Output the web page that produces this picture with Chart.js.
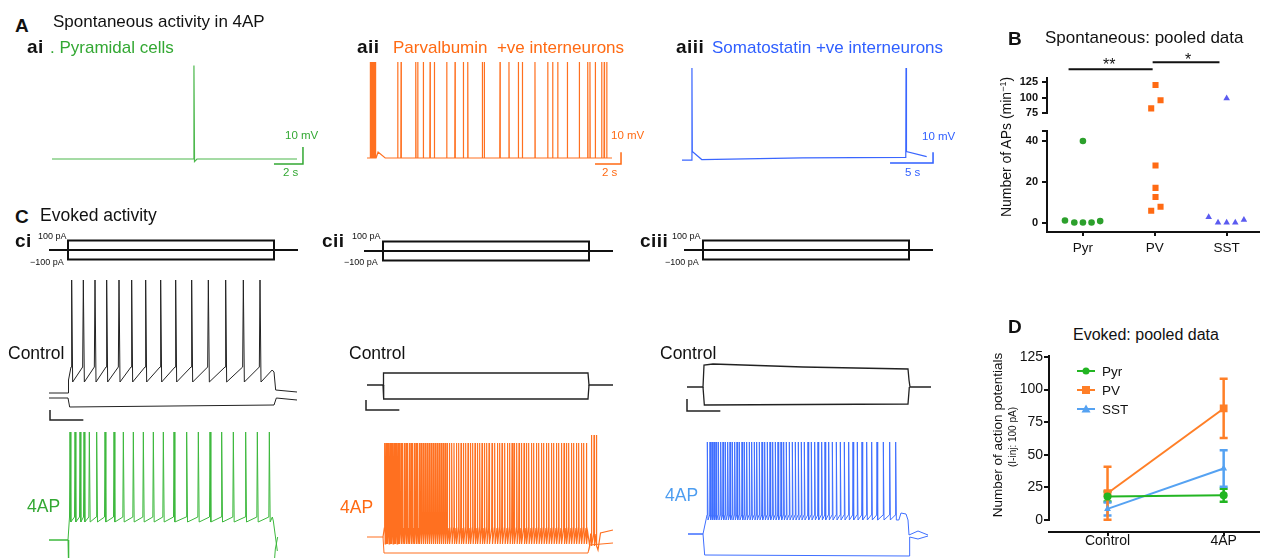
<!DOCTYPE html>
<html lang="en">
<head>
<meta charset="utf-8">
<title>Spontaneous and evoked activity in 4AP</title>
<script src="https://cdn.jsdelivr.net/npm/chart.js@4.4.1/dist/chart.umd.min.js"></script>
<style>
  html, body { margin: 0; padding: 0; background: #fff; }
  #fig { position: relative; width: 1264px; height: 558px; overflow: hidden;
         font-family: 'Liberation Sans', Arial, sans-serif; color: #111; }
  #fig canvas { position: absolute; }
  .t { position: absolute; white-space: nowrap; line-height: 1; font-size: 17px; }
  .pl { font-weight: bold; font-size: 19px; letter-spacing: 0.5px; }
  .s { font-size: 11.5px; }
  .pa { font-size: 9px; }
  .rot { position: absolute; white-space: nowrap; line-height: 1; transform: translate(-50%, -50%) rotate(-90deg); }
  .lg { position: absolute; }
  .g { color: #33a833; } .o { color: #ff6a13; } .b { color: #2f5fff; }
</style>
</head>
<body>
<div id="fig">
  <!-- A: spontaneous -->
  <canvas id="cAi"   width="270" height="115" style="left:45px;top:55px"></canvas>
  <canvas id="cAii"  width="280" height="115" style="left:360px;top:55px"></canvas>
  <canvas id="cAiii" width="270" height="115" style="left:675px;top:55px"></canvas>

  <!-- C: evoked -->
  <canvas id="cCiS"   width="265" height="30"  style="left:40px;top:235px"></canvas>
  <canvas id="cCiiS"  width="265" height="30"  style="left:355px;top:236px"></canvas>
  <canvas id="cCiiiS" width="265" height="30"  style="left:675px;top:235px"></canvas>
  <canvas id="cCiC"   width="265" height="155" style="left:40px;top:270px"></canvas>
  <canvas id="cCiiC"  width="265" height="155" style="left:355px;top:270px"></canvas>
  <canvas id="cCiiiC" width="265" height="155" style="left:675px;top:270px"></canvas>
  <canvas id="cCiA"   width="265" height="133" style="left:40px;top:425px"></canvas>
  <canvas id="cCiiA"  width="265" height="133" style="left:355px;top:425px"></canvas>
  <canvas id="cCiiiA" width="265" height="133" style="left:675px;top:425px"></canvas>

  <!-- B and D -->
  <canvas id="cBtop" width="274" height="74"  style="left:990px;top:50px"></canvas>
  <canvas id="cBbot" width="274" height="150" style="left:990px;top:120px"></canvas>
  <canvas id="cD"    width="274" height="213" style="left:990px;top:345px"></canvas>

  <div class="t pl" style="left:15px;top:16px">A</div>
  <div class="t" style="left:53px;top:12.5px">Spontaneous activity in 4AP</div>
  <div class="t pl" style="left:27px;top:37px">ai</div>
  <div class="t g" style="left:50px;top:39px">. Pyramidal cells</div>
  <div class="t pl" style="left:357px;top:37px">aii</div>
  <div class="t o" style="left:393px;top:39px">Parvalbumin&nbsp; +ve interneurons</div>
  <div class="t pl" style="left:676px;top:37px">aiii</div>
  <div class="t b" style="left:712px;top:39px">Somatostatin +ve interneurons</div>
  <div class="t s g" style="left:285px;top:130px">10 mV</div>
  <div class="t s g" style="left:283px;top:167px">2 s</div>
  <div class="t s o" style="left:611px;top:130px">10 mV</div>
  <div class="t s o" style="left:602px;top:167px">2 s</div>
  <div class="t s b" style="left:922px;top:131px">10 mV</div>
  <div class="t s b" style="left:905px;top:167px">5 s</div>

  <div class="t pl" style="left:15px;top:207px">C</div>
  <div class="t" style="left:40px;top:207px;font-size:17.5px">Evoked activity</div>
  <div class="t pl" style="left:15px;top:230.5px">ci</div>
  <div class="t pl" style="left:322px;top:230.5px">cii</div>
  <div class="t pl" style="left:640px;top:230.5px">ciii</div>
  <div class="t pa" style="left:38px;top:232px">100 pA</div>
  <div class="t pa" style="left:30px;top:258px">&minus;100 pA</div>
  <div class="t pa" style="left:352px;top:232px">100 pA</div>
  <div class="t pa" style="left:344px;top:258px">&minus;100 pA</div>
  <div class="t pa" style="left:672px;top:232px">100 pA</div>
  <div class="t pa" style="left:665px;top:258px">&minus;100 pA</div>
  <div class="t" style="left:8px;top:344.5px;font-size:17.5px">Control</div>
  <div class="t" style="left:349px;top:344.5px;font-size:17.5px">Control</div>
  <div class="t" style="left:660px;top:344.5px;font-size:17.5px">Control</div>
  <div class="t g" style="left:27px;top:498px;font-size:17.5px">4AP</div>
  <div class="t o" style="left:340px;top:498.5px;font-size:17.5px">4AP</div>
  <div class="t" style="left:665px;top:487px;font-size:17.5px;color:#4d9df0">4AP</div>

  <div class="t pl" style="left:1008px;top:29px">B</div>
  <div class="t" style="left:1045px;top:29px">Spontaneous: pooled data</div>
  <div class="t" style="left:1103px;top:57px;font-size:16px">**</div>
  <div class="t" style="left:1185px;top:52px;font-size:16px">*</div>
  <div class="rot" style="left:1006px;top:147px;font-size:14px">Number of APs (min<sup style="font-size:9px">&minus;1</sup>)</div>

  <div class="t pl" style="left:1008px;top:317px">D</div>
  <div class="t" style="left:1073px;top:326.5px;font-size:16px">Evoked: pooled data</div>
  <div class="rot" style="left:998px;top:435px;font-size:13.5px">Number of action potentials</div>
  <div class="rot" style="left:1013px;top:437px;font-size:10px">(I-inj: 100 pA)</div>

  <svg class="lg" style="left:1076px;top:365px" width="20" height="12"><line x1="1" y1="6" x2="19" y2="6" stroke="#22b522" stroke-width="2"/><circle cx="10" cy="6" r="3.5" fill="#22b522"/></svg>
  <svg class="lg" style="left:1076px;top:384px" width="20" height="12"><line x1="1" y1="6" x2="19" y2="6" stroke="#ff7f27" stroke-width="2"/><rect x="6" y="2" width="8" height="8" fill="#ff7f27"/></svg>
  <svg class="lg" style="left:1076px;top:403px" width="20" height="12"><line x1="1" y1="6" x2="19" y2="6" stroke="#55a2f2" stroke-width="2"/><polygon points="10,1.5 14.5,9.5 5.5,9.5" fill="#55a2f2"/></svg>
  <div class="t" style="left:1102px;top:364.5px;font-size:13.5px">Pyr</div>
  <div class="t" style="left:1102px;top:383.5px;font-size:13.5px">PV</div>
  <div class="t" style="left:1102px;top:402.5px;font-size:13.5px">SST</div>
</div>

<script>
Chart.defaults.font.family = "'Liberation Sans', Arial, sans-serif";
Chart.defaults.color = '#111';

// ---------- A: spontaneous activity in 4AP (time s, Vm mV) ----------
const aiSpikes = [9.79];
const aiBase = [[0, -60], [9.77, -60], [9.83, -61.5], [10.0, -60], [16.9, -60]];
const aiPeak = -5;
const aiBar = [[17.31, -53], [17.31, -63], [15.31, -63]];          // 10 mV, 2 s

const aiiBurst = [0.25, 0.33, 0.41, 0.49, 0.57, 0.65];
const aiiSpikes = [2.36, 2.62, 3.75, 3.9, 4.33, 4.85, 5.18, 6.13, 6.77, 7.41, 7.75, 8.87, 9.02,
  10.23, 10.92, 11.64, 11.95, 12.92, 13.9, 14.28, 14.67, 15.41, 16.33, 16.98, 17.15, 17.56,
  18.05, 18.25, 18.44];
const aiiBase = [[0, -60], [0.7, -60], [0.85, -55], [1.4, -60], [18.85, -60]];
const aiiPeak = 22;
const aiiBar = [[19.54, -55.1], [19.54, -65.1], [17.54, -65.1]];   // 10 mV, 2 s

const aiiiSpikes = [1.16, 26.05];
const aiiiBase = [[0, -61], [1.14, -61], [1.2, -53], [2.3, -60.5], [14, -59], [26.02, -58.4],
  [26.1, -53], [28.45, -57.8]];
const aiiiPeak = 25;
const aiiiBar = [[29.19, -53.7], [29.19, -63.7], [24.19, -63.7]];  // 10 mV, 5 s

// ---------- C: evoked activity (time ms from step onset, Vm mV) ----------
const stepOff = 1236;
const stepAmp = [100, -100];          // pA
const stimSpan = [-114, 1380];

// ci pyramidal
const ciCtrlSpikes = [22, 92, 162, 232, 306, 382, 466, 556, 646, 742, 842, 946, 1052, 1152];
const ciCtrlShape = [-37, 50, -52, 4, 6];           // threshold, peak, AHP, rise, fall
const ciCtrlLead = [[-114, -63], [0, -63], [3, -50]];
const ciCtrlTail = [[1225, -40], [1236, -42], [1246, -60], [1374, -62]];
const ciCtrlHyp = [[-114, -68], [0, -68], [10, -77], [1236, -75], [1250, -68], [1374, -70]];
const ciBar = [[-108, -80], [-108, -90], [92, -90]];
const ci4apSpikes = [12, 42, 72, 96, 128, 172, 222, 276, 332, 392, 452, 512, 572, 636, 712,
  782, 852, 922, 992, 1066, 1136, 1208];
const ci4apShape = [-42, 43, -47, 3, 5];
const ci4apLead = [[-114, -65], [0, -65]];
const ci4apTail = [[1226, -42], [1232, -46], [1256, -76]];
const ci4apHyp = [[-114, -65], [0, -65], [4, -100], [1232, -100], [1244, -74], [1258, -62]];

// cii parvalbumin
const ciiCtrlDep = [[-96, -65], [0, -65], [3, -53], [1230, -53], [1236, -65], [1380, -65]];
const ciiCtrlHyp = [[0, -65], [4, -79], [1230, -79], [1236, -65]];
const ciiBar = [[-102, -80], [-102, -90], [98, -90]];
const cii4apSpikes = [10, 18, 26, 34, 42, 50, 58, 66, 74, 82, 90, 98, 108, 118, 128, 138, 148,
  158, 168, 178, 188, 198, 208, 218, 228, 240, 252, 264, 276, 288, 300, 312, 324, 336, 348, 360,
  372, 384, 398, 412, 426, 440, 454, 468, 482, 496, 510, 524, 538, 552, 566, 580, 594, 608, 622,
  636, 654, 670, 686, 700, 714, 730, 746, 760, 774, 786, 802, 816, 830, 846, 860, 874, 890, 904,
  920, 934, 950, 964, 980, 994, 1010, 1024, 1040, 1054, 1070, 1086, 1100, 1114, 1130, 1144,
  1160, 1174, 1190, 1204, 1220];
const cii4apShape = [-56, 29, -72, 2, 3];
const cii4apLead = [[-96, -65], [0, -65]];
const cii4apMid = [[1228, -60], [1240, -74], [1246, -62]];
const cii4apRebound = [1250, 1266, 1280];
const cii4apReboundShape = [-62, 37, -74, 2, 3];
const cii4apTail = [[1290, -78], [1305, -61], [1380, -58]];
const cii4apHyp = [[0, -65], [6, -81], [1230, -81], [1240, -73], [1380, -71]];

// ciii somatostatin
const ciiiCtrlDep = [[-96, -65], [0, -65], [6, -43], [60, -42], [600, -45], [1230, -47],
  [1236, -58], [1242, -65], [1368, -65]];
const ciiiCtrlHyp = [[0, -65], [8, -83], [1230, -82], [1238, -65]];
const ciiiBar = [[-96, -77], [-96, -89], [104, -89]];
const ciii4apSpikes = [26, 42, 54, 66, 78, 92, 106, 120, 134, 148, 162, 176, 190, 204, 218,
  234, 248, 262, 278, 292, 308, 322, 338, 354, 370, 386, 402, 418, 434, 450, 468, 484, 500, 518,
  536, 554, 572, 590, 608, 630, 650, 670, 690, 712, 732, 754, 776, 800, 824, 848, 874, 900, 926,
  954, 982, 1012, 1044, 1082, 1120, 1156];
const ciii4apShape = [-46, 27, -51, 2, 4];
const ciii4apLead = [[-90, -65], [0, -65]];
const ciii4apTail = [[1175, -51], [1188, -44], [1218, -45], [1230, -51], [1236, -66],
  [1290, -62], [1350, -66]];
const ciii4apHyp = [[-90, -65], [0, -65], [10, -86], [1236, -87], [1240, -68], [1290, -70],
  [1350, -67]];

// ---------- B: spontaneous pooled data (APs per min) ----------
const cellTypes = ['Pyr', 'PV', 'SST'];
const pyrRate = [1, 0, 0, 0, 0.7, 40];
const pyrJitter = [-0.25, -0.12, 0, 0.12, 0.24, 0];
const pvRate = [83, 120, 96, 28, 17, 12.5, 7.7, 5.8];
const pvJitter = [-0.05, 0.01, 0.08, 0.01, 0.01, 0.01, 0.08, -0.05];
const sstRate = [2.7, 0, 0, 0, 1.3, 99];
const sstJitter = [-0.25, -0.12, 0, 0.12, 0.24, 0];
const sigBars = [[-0.2, 0.97, 145.3], [0.97, 1.9, 156.3]];   // from, to, level (** and *)

// ---------- D: evoked pooled data (APs per 100 pA step) ----------
const conditions = ['Control', '4AP'];
const pyrMean = [18, 19];   const pyrErr = [3.8, 5];
const pvMean = [20.5, 85.5]; const pvErr = [20.4, 22.7];
const sstMean = [8.5, 39.5]; const sstErr = [5, 14];

// ---------- helpers ----------
const xy = arr => arr.map(([x, y]) => ({ x, y }));

function spontTrace(base, spikes, peak, rest, w) {
  const pts = xy(base);
  spikes.forEach(t => {
    pts.push({ x: t, y: peak });
    if (w) pts.push({ x: t - w, y: rest }, { x: t + w, y: rest });
  });
  return pts.sort((a, b) => a.x - b.x);
}

function train(spikes, [thr, peak, ahp, pre, post]) {
  return spikes.flatMap(t => [{ x: t - pre, y: thr }, { x: t, y: peak }, { x: t + post, y: ahp }]);
}

const line = (data, color, w = 1) => ({ data, borderColor: color, borderWidth: w, pointRadius: 0, fill: false });

function traceChart(id, xr, yr, datasets) {
  return new Chart(document.getElementById(id), {
    type: 'line',
    data: { datasets },
    options: {
      responsive: false, animation: false, events: [],
      layout: { padding: 0 },
      plugins: { legend: { display: false }, tooltip: { enabled: false } },
      scales: {
        x: { type: 'linear', display: false, min: xr[0], max: xr[1] },
        y: { display: false, min: yr[0], max: yr[1] },
      },
      elements: { line: { tension: 0 } },
    },
  });
}

// ---------- A charts ----------
traceChart('cAi', [-0.483, 18.14], [-66.47, 1.18], [
  line(spontTrace(aiBase, aiSpikes, aiPeak), '#4cb84c', 1.2),
  line(xy(aiBar), '#33a833', 1.5),
]);
traceChart('cAii', [-0.54, 21.0], [-70.26, 28.0], [
  line(spontTrace(aiiBase, aiiBurst.concat(aiiSpikes), aiiPeak, -60, 0.02), '#ff7020', 1.2),
  line(xy(aiiBar), '#ff6a13', 1.5),
]);
traceChart('cAiii', [-0.81, 30.58], [-70.28, 37.2], [
  line(spontTrace(aiiiBase, aiiiSpikes, aiiiPeak), '#3a66ff', 1.2),
  line(xy(aiiiBar), '#2f5fff', 1.5),
]);

// ---------- C charts ----------
const stimX = [-168, 1422];
function stimData(amp) {
  return xy([[0, 0], [0, amp], [stepOff, amp], [stepOff, 0]]);
}
['cCiS', 'cCiiS', 'cCiiiS'].forEach(id => traceChart(id, stimX, [-158, 158], [
  line(xy([[stimSpan[0], 0], [stimSpan[1], 0]]), '#111', 2),
  line(stimData(stepAmp[0]), '#111', 2),
  line(stimData(stepAmp[1]), '#111', 2),
]));

traceChart('cCiC', stimX, [-95, 60], [
  line(xy(ciCtrlHyp), '#222'),
  line([...xy(ciCtrlLead), ...train(ciCtrlSpikes, ciCtrlShape), ...xy(ciCtrlTail)], '#222'),
  line(xy(ciBar), '#222', 1.5),
]);
traceChart('cCiA', stimX, [-83, 50], [
  line(xy(ci4apHyp), '#3cb83c'),
  line([...xy(ci4apLead), ...train(ci4apSpikes, ci4apShape), ...xy(ci4apTail)], '#3cb83c'),
]);

traceChart('cCiiC', stimX, [-105, 50], [
  line(xy(ciiCtrlHyp), '#222', 1.3),
  line(xy(ciiCtrlDep), '#222', 1.3),
  line(xy(ciiBar), '#222', 1.5),
]);
traceChart('cCiiA', stimX, [-86, 47], [
  line(xy(cii4apHyp), '#ff7020'),
  line([...xy(cii4apLead), ...train(cii4apSpikes, cii4apShape), ...xy(cii4apMid),
        ...train(cii4apRebound, cii4apReboundShape), ...xy(cii4apTail)], '#ff7020', 1.2),
]);

traceChart('cCiiiC', stimX, [-103, 52], [
  line(xy(ciiiCtrlHyp), '#222', 1.3),
  line(xy(ciiiCtrlDep), '#222', 1.3),
  line(xy(ciiiBar), '#222', 1.5),
]);
traceChart('cCiiiA', stimX, [-89, 44], [
  line(xy(ciii4apHyp), '#3f6fff'),
  line([...xy(ciii4apLead), ...train(ciii4apSpikes, ciii4apShape), ...xy(ciii4apTail)], '#3f6fff'),
]);

// ---------- B charts (broken y axis: two stacked charts) ----------
const cellPoints = (i, rates, jitter) => rates.map((r, k) => ({ x: i + jitter[k], y: r }));
const bGroups = [
  { pts: cellPoints(0, pyrRate, pyrJitter), color: '#2ca02c', style: 'circle', r: 3.3 },
  { pts: cellPoints(1, pvRate, pvJitter), color: '#ff6a13', style: 'rect', r: 4.3 },
  { pts: cellPoints(2, sstRate, sstJitter), color: '#5b5bf0', style: 'triangle', r: 3.8 },
];
const bSet = filter => bGroups.map(g => ({
  data: g.pts.filter(filter), pointStyle: g.style, pointRadius: g.r,
  backgroundColor: g.color, borderWidth: 0, pointBorderWidth: 0,
}));
const bX = (display) => ({
  type: 'linear', min: -0.5, max: 2.45, display,
  afterBuildTicks: s => { s.ticks = cellTypes.map((_, i) => ({ value: i })); },
  ticks: { callback: v => cellTypes[v], font: { size: 13.5 }, padding: 4 },
  grid: { drawOnChartArea: false, tickLength: 4, color: '#111', lineWidth: 2 },
  border: { color: '#111', width: 2 },
  afterFit: s => { s.height = display ? 38 : 0; },
});
const bY = (min, max, ticks, labelMax) => ({
  min, max,
  afterBuildTicks: s => { s.ticks = ticks.map(v => ({ value: v })); },
  ticks: { callback: v => (v > labelMax ? '' : v), font: { size: 11, weight: 'bold' }, padding: 4 },
  grid: { drawOnChartArea: false, tickLength: 5, color: '#111', lineWidth: 2 },
  border: { color: '#111', width: 2 },
  afterFit: s => { s.width = 57; },
});
const bOpts = (padding, x, y) => ({
  responsive: false, animation: false, events: [],
  layout: { padding },
  plugins: { legend: { display: false }, tooltip: { enabled: false } },
  scales: { x, y },
});

new Chart(document.getElementById('cBtop'), {
  type: 'scatter',
  data: {
    datasets: [
      ...bSet(p => p.y >= 75),
      ...sigBars.map(([a, b, lvl]) => ({
        data: [{ x: a, y: lvl }, { x: b, y: lvl }], showLine: true, pointRadius: 0,
        borderColor: '#111', borderWidth: 2, clip: false,
      })),
    ],
  },
  options: bOpts({ top: 28, bottom: 10, right: 5, left: 0 }, bX(false), bY(75, 131.25, [75, 100, 125], 200)),
});
new Chart(document.getElementById('cBbot'), {
  type: 'scatter',
  data: { datasets: bSet(p => p.y <= 45) },
  options: bOpts({ top: 5, bottom: 0, right: 5, left: 0 }, bX(true), bY(-4.65, 45.1, [0, 20, 40, 45.1], 41)),
});

// ---------- D chart ----------
const errorBars = {
  id: 'errorBars',
  beforeDatasetsDraw(chart) {
    const ctx = chart.ctx, ys = chart.scales.y;
    chart.data.datasets.forEach((ds, i) => {
      if (!ds.errors) return;
      chart.getDatasetMeta(i).data.forEach((pt, j) => {
        const m = ds.data[j].y, e = ds.errors[j];
        const top = ys.getPixelForValue(m + e), bot = ys.getPixelForValue(m - e);
        ctx.save();
        ctx.strokeStyle = ds.borderColor; ctx.lineWidth = 2.5;
        ctx.beginPath();
        ctx.moveTo(pt.x, top); ctx.lineTo(pt.x, bot);
        ctx.moveTo(pt.x - 4, top); ctx.lineTo(pt.x + 4, top);
        ctx.moveTo(pt.x - 4, bot); ctx.lineTo(pt.x + 4, bot);
        ctx.stroke();
        ctx.restore();
      });
    });
  },
};
const yAxisLine = {
  id: 'yAxisLine',
  afterDraw(chart, args, opts) {
    const ys = chart.scales.y, ctx = chart.ctx, x = chart.chartArea.left;
    ctx.save();
    ctx.strokeStyle = '#111'; ctx.lineWidth = 2;
    ctx.beginPath();
    ctx.moveTo(x, ys.getPixelForValue(ys.max)); ctx.lineTo(x, ys.getPixelForValue(opts.from));
    ctx.stroke();
    ctx.restore();
  },
};
const dSet = (label, mean, err, color, style, r) => ({
  label, data: mean.map((m, i) => ({ x: i, y: m })), errors: err,
  borderColor: color, backgroundColor: color, pointBackgroundColor: color,
  pointStyle: style, pointRadius: r, pointBorderWidth: 0, borderWidth: 2,
});

new Chart(document.getElementById('cD'), {
  type: 'line',
  data: {
    datasets: [
      dSet('Pyr', pyrMean, pyrErr, '#22b522', 'circle', 4),
      dSet('SST', sstMean, sstErr, '#55a2f2', 'triangle', 4),
      dSet('PV', pvMean, pvErr, '#ff7f27', 'rect', 5.5),
    ],
  },
  plugins: [errorBars, yAxisLine],
  options: {
    responsive: false, animation: false, events: [],
    layout: { padding: { top: 10, right: 4, bottom: 0, left: 0 } },
    plugins: { legend: { display: false }, tooltip: { enabled: false }, yAxisLine: { from: -0.8 } },
    elements: { line: { tension: 0 } },
    scales: {
      x: {
        type: 'linear', min: -0.504, max: 1.3,
        afterBuildTicks: s => { s.ticks = conditions.map((_, i) => ({ value: i })); },
        ticks: { callback: v => conditions[v], font: { size: 14 }, padding: -3 },
        grid: { drawOnChartArea: false, tickLength: 4, color: '#111', lineWidth: 2 },
        border: { color: '#111', width: 2 },
        afterFit: s => { s.height = 26; },
      },
      y: {
        min: -9.2, max: 126.5,
        afterBuildTicks: s => { s.ticks = [0, 25, 50, 75, 100, 125].map(v => ({ value: v })); },
        ticks: { font: { size: 14 }, padding: 1 },
        grid: { drawOnChartArea: false, tickLength: 5, color: '#111', lineWidth: 2 },
        border: { display: false },
        afterFit: s => { s.width = 59; },
      },
    },
  },
});
</script>
</body>
</html>
